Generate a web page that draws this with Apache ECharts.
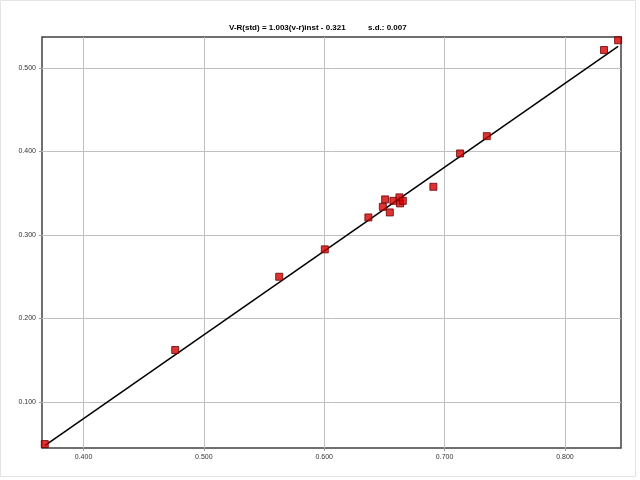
<!DOCTYPE html>
<html>
<head>
<meta charset="utf-8">
<script src="https://cdn.jsdelivr.net/npm/echarts@6/dist/echarts.min.js"></script>
<style>html,body{margin:0;padding:0;background:#fff;}#c{width:640px;height:480px;}</style>
</head>
<body>
<div id="c"></div>
<script>
// (v-r)inst values
const xValues = [0.3678, 0.4762, 0.5626, 0.6005, 0.6367, 0.6487, 0.6506, 0.6545, 0.6575, 0.6625, 0.6630, 0.6653, 0.6907, 0.7129, 0.7351, 0.8325, 0.8442];
// V-R(std) values
const yValues = [0.0497, 0.1623, 0.2500, 0.2828, 0.3210, 0.3337, 0.3426, 0.3270, 0.3409, 0.3450, 0.3378, 0.3409, 0.3577, 0.3976, 0.4183, 0.5214, 0.5331];
// fit line endpoints
const fitX = [0.3678, 0.8442];
const fitY = [0.0479, 0.5257];
const xTicks = [0.4, 0.5, 0.6, 0.7, 0.8];
const yTicks = [0.1, 0.2, 0.3, 0.4, 0.5];
const titleMain = 'V-R(std) = 1.003(v-r)inst - 0.321';
const titleSd = 's.d.: 0.007';

const pts = xValues.map((x, i) => [x, yValues[i]]);
const line = fitX.map((x, i) => [x, fitY[i]]);

const chart = echarts.init(document.getElementById('c'));
const lbl = {color: '#333', fontSize: 7, fontFamily: 'Liberation Sans, Arial'};
const tStyle = {fontSize: 8, fontWeight: 'bold', color: '#000', fontFamily: 'Liberation Sans, Arial'};
chart.setOption({
  animation: false,
  backgroundColor: '#fff',
  title: [
    {text: titleMain, left: 224, top: 19, textStyle: tStyle},
    {text: titleSd, left: 363, top: 19, textStyle: tStyle}
  ],
  grid: {left: 42, right: 19, top: 37, bottom: 32, show: true, borderColor: '#404040', borderWidth: 1.5},
  xAxis: {
    type: 'value', min: 0.3655, max: 0.8466,
    axisLine: {show: false},
    axisTick: {show: true, length: 3, lineStyle: {color: '#999'}, customValues: xTicks},
    axisLabel: Object.assign({customValues: xTicks, margin: 6, formatter: v => v.toFixed(3)}, lbl),
    splitLine: {show: true, lineStyle: {color: '#c0c0c0', width: 1}},
    interval: 0.1
  },
  yAxis: {
    type: 'value', min: 0.045, max: 0.537,
    axisLine: {show: false},
    axisTick: {show: true, length: 3, lineStyle: {color: '#999'}, customValues: yTicks},
    axisLabel: Object.assign({customValues: yTicks, margin: 6, formatter: v => v.toFixed(3)}, lbl),
    splitLine: {show: true, lineStyle: {color: '#c0c0c0', width: 1}},
    interval: 0.1
  },
  series: [
    {type: 'line', data: line, symbol: 'none', lineStyle: {color: '#000', width: 1.5}, z: 2},
    {type: 'scatter', data: pts, symbol: 'rect', symbolSize: 7,
     itemStyle: {color: '#d40000', borderColor: '#6a0000', borderWidth: 1}, z: 3}
  ],
  graphic: [
    {type: 'rect', shape: {x: 0.5, y: 0.5, width: 635, height: 476}, style: {fill: 'none', stroke: '#e4e4e4', lineWidth: 1}, silent: true}
  ]
});
</script>
</body>
</html>
